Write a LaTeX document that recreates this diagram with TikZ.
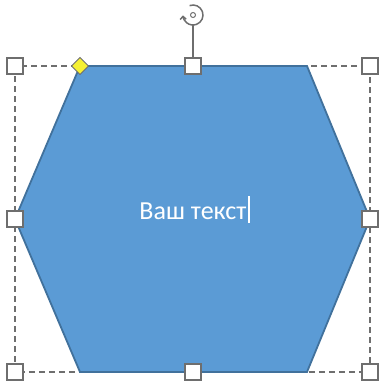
\documentclass[tikz,border=0pt]{standalone}
\usepackage{fontspec}
\setmainfont{Carlito}
\usetikzlibrary{arrows.meta}
\definecolor{hexfill}{HTML}{5B9BD5}
\definecolor{hexline}{HTML}{41719C}
\definecolor{selgray}{HTML}{6E6E6E}
\definecolor{adjyellow}{HTML}{F5F032}
\begin{document}
\begin{tikzpicture}[x=1pt,y=-1pt,
  handle/.style={draw=selgray,fill=white,line width=1.2pt,minimum size=16pt,inner sep=0pt,rectangle},
  selbox/.style={draw=selgray,line width=1.6pt,dash pattern=on 6pt off 4pt},
  shapeline/.style={draw=hexline,fill=hexfill,line width=1.8pt,line join=miter}]
\useasboundingbox (0,0) rectangle (378,383);
% hexagon
\coordinate (h1) at (80,66);
\coordinate (h2) at (307,66);
\coordinate (h3) at (370,219);
\coordinate (h4) at (307,372);
\coordinate (h5) at (80,372);
\coordinate (h6) at (15,219);
% selection box
\draw[selbox] (15,66) rectangle (370,372);
\draw[shapeline] (h1) -- (h2) -- (h3) -- (h4) -- (h5) -- (h6) -- cycle;
% rotation handle
\coordinate (rc) at (193,15);
\draw[selgray,line width=1.5pt,-{Straight Barb[length=3pt,width=6pt]}] (rc) ++(-110:10) arc[start angle=-110,end angle=178,radius=10];
\node[draw=selgray,circle,line width=1pt,minimum size=5pt,inner sep=0pt] (rotdot) at (rc) {};
\node[handle] (tm) at (193,66) {};
\coordinate (rotb) at (193,25);
\draw[selgray,line width=1.5pt] (rotb) -- (tm.north);
% handles
\node[handle] (tl) at (15,66) {};
\node[handle] (tr) at (370,66) {};
\node[handle] (ml) at (15,219) {};
\node[handle] (mr) at (370,219) {};
\node[handle] (bl) at (15,372) {};
\node[handle] (bm) at (193,372) {};
\node[handle] (br) at (370,372) {};
% adjustment diamond
\node[draw=selgray,fill=adjyellow,line width=1pt,rotate=45,minimum size=12pt,inner sep=0pt,rectangle] (adj) at (80,66) {};
% text
\node[text=white,font=\fontsize{26}{30}\selectfont,inner sep=0pt,anchor=base] (txt) at (193,219) {Ваш текст};
\draw[white,line width=1.8pt] ([xshift=2pt]txt.base east) ++(0,4) coordinate (cb) -- ++(0,-27) coordinate (ct);
\end{tikzpicture}
\end{document}
